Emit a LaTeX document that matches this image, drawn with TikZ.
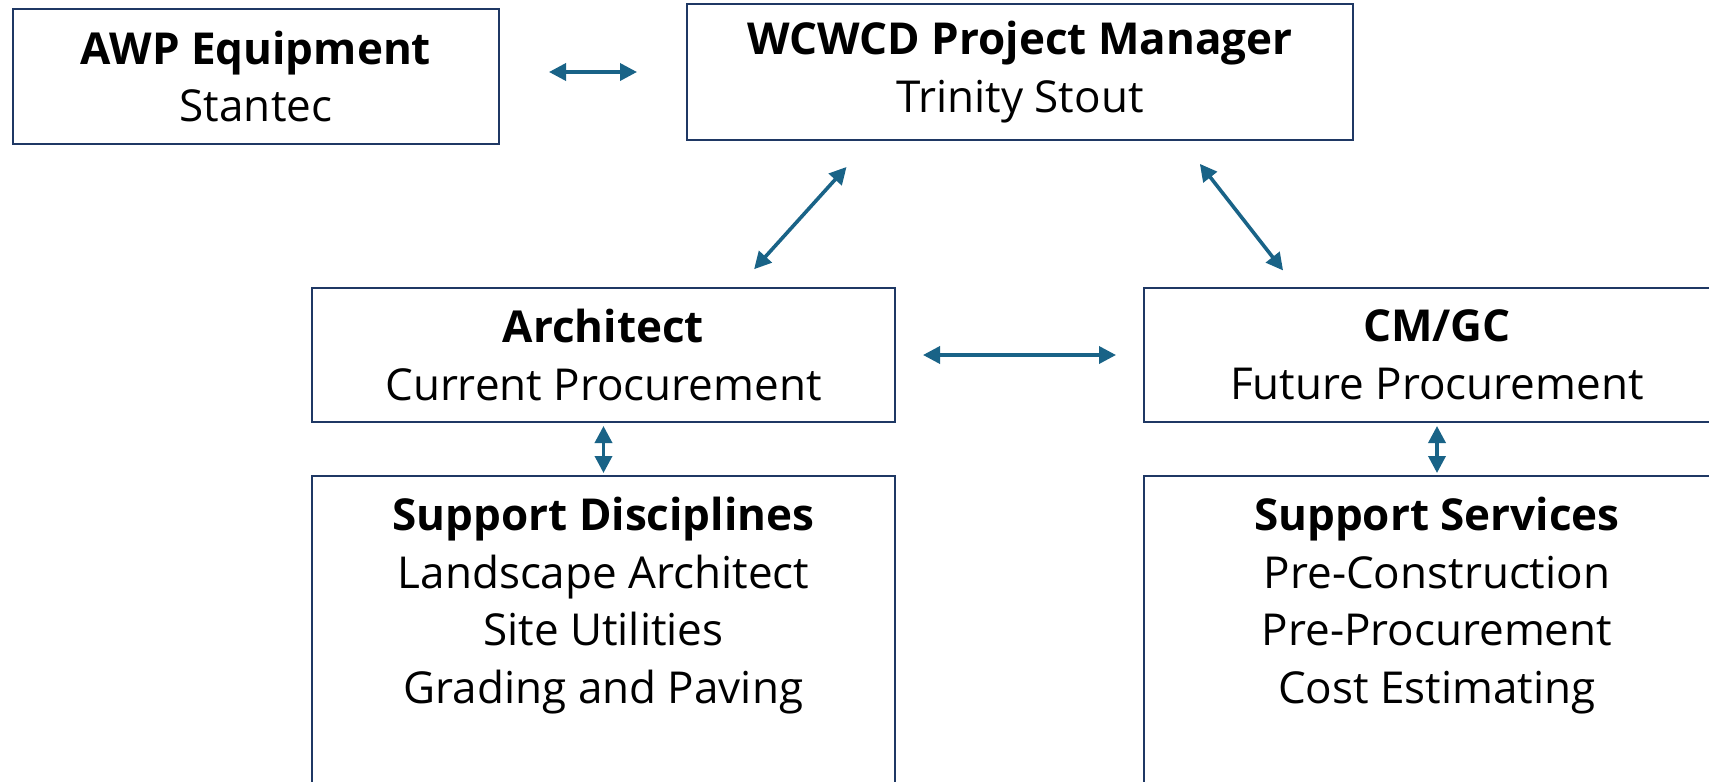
\documentclass[tikz,border=0pt]{standalone}
\usepackage{fontspec}
\setmainfont{Open Sans}
\usetikzlibrary{arrows.meta}
\definecolor{boxline}{RGB}{31,56,100}
\definecolor{linkblue}{RGB}{25,99,135}
\begin{document}
\begin{tikzpicture}[x=1pt,y=-1pt,
  box/.style={draw=boxline, line width=2pt, inner sep=0pt, align=center,
    font=\fontsize{44}{57.5}\selectfont},
  textblock/.style={inner sep=0pt, align=center, font=\fontsize{44}{57.5}\selectfont},
  link/.style={draw=linkblue, line width=3.6pt,
    {Triangle[length=17pt,width=17pt]}-{Triangle[length=17pt,width=17pt]}}]
\useasboundingbox[fill=white] (0,0) rectangle (1709,782);

% top row
\node[box, minimum width=486pt, minimum height=135pt] (awp) at (256,76.5)
  {\textbf{AWP Equipment}\\Stantec};
\node[box, minimum width=666pt, minimum height=136pt] (pm) at (1020,72)
  {\textbf{WCWCD Project Manager}\\Trinity Stout};

% middle row
\node[box, minimum width=583pt, minimum height=134pt] (arch) at (603.5,355)
  {\textbf{Architect}\\Current Procurement};
\node[box, minimum width=586pt, minimum height=134pt] (cm) at (1437,355)
  {\textbf{CM/GC}\\Future Procurement};

% support boxes (open towards the bottom of the page)
\node[box, minimum width=583pt, minimum height=340pt, anchor=north] (sd) at (603.5,475) {};
\node[box, minimum width=586pt, minimum height=340pt, anchor=north] (ss) at (1437,475) {};
\node[textblock] (sdtext) at (603.5,605.5)
  {\textbf{Support Disciplines}\\Landscape Architect\\Site Utilities\\Grading and Paving};
\node[textblock] (sstext) at (1437,605.5)
  {\textbf{Support Services}\\Pre-Construction\\Pre-Procurement\\Cost Estimating};

% connectors
\draw[link, shorten <=49pt, shorten >=49pt] (awp.east |- pm.west) -- (pm.west);
\draw[link, shorten <=35pt, shorten >=24pt] ([xshift=-150pt]pm.south) -- ([xshift=134.5pt]arch.north);
\draw[link, shorten <=29pt, shorten >=21pt] ([xshift=162pt]pm.south) -- ([xshift=-141pt]cm.north);
\draw[link, shorten <=27pt, shorten >=27pt] (arch.east) -- (cm.west);
\draw[link, shorten <=3pt, shorten >=2pt] (arch.south) -- (sd.north);
\draw[link, shorten <=3pt, shorten >=2pt] (cm.south) -- (ss.north);
\end{tikzpicture}
\end{document}
